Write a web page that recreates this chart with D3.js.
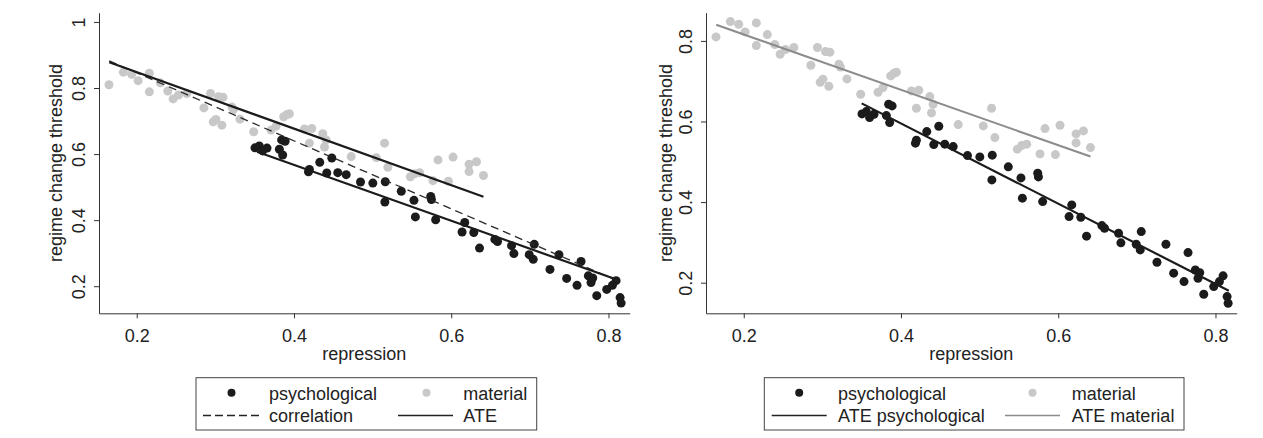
<!DOCTYPE html>
<html>
<head>
<meta charset="utf-8">
<script src="https://cdn.jsdelivr.net/npm/d3@7"></script>
<style>
  body { margin: 0; background: #fff; }
  text { font-family: "Liberation Sans", Arial, sans-serif; fill: #222; }
</style>
</head>
<body>
<div id="chart-area"></div>
<script>
// psychological scenarios (black dots)
var psychX = [0.3504, 0.3559, 0.3601, 0.3657, 0.3843, 0.3887, 0.3814, 0.3856, 0.4184, 0.4196,
              0.4328, 0.4481, 0.4417, 0.4557, 0.4664, 0.4846, 0.5003, 0.5161, 0.5156, 0.5365,
              0.5526, 0.5544, 0.5739, 0.5748, 0.5802, 0.6172, 0.6138, 0.6287, 0.6360, 0.6555,
              0.6589, 0.6767, 0.6797, 0.7056, 0.6992, 0.7043, 0.7256, 0.7370, 0.7468, 0.7651,
              0.7600, 0.7744, 0.7800, 0.7778, 0.7851, 0.7978, 0.8050, 0.8097, 0.8148, 0.8161];
var psychY = [0.6189, 0.6246, 0.6097, 0.6181, 0.6429, 0.6387, 0.6147, 0.5973, 0.5462, 0.5536,
              0.5749, 0.5883, 0.5427, 0.5437, 0.5377, 0.5154, 0.5122, 0.5164, 0.4551, 0.4874,
              0.4600, 0.4097, 0.4717, 0.4625, 0.4013, 0.3930, 0.3640, 0.3625, 0.3154, 0.3417,
              0.3352, 0.3228, 0.2988, 0.3268, 0.2955, 0.2814, 0.2508, 0.2955, 0.2236, 0.2747,
              0.2027, 0.2315, 0.2249, 0.2111, 0.1714, 0.1903, 0.2027, 0.2169, 0.1655, 0.1490];

// material scenarios (grey dots)
var matX = [0.1647, 0.1830, 0.1936, 0.2017, 0.2160, 0.2160, 0.2300, 0.2395, 0.2463, 0.2530,
            0.2637, 0.2854, 0.2938, 0.3040, 0.3096, 0.2973, 0.3007, 0.3083, 0.3211, 0.3230,
            0.3313, 0.3487, 0.3708, 0.3772, 0.3869, 0.3912, 0.3941, 0.4133, 0.4226, 0.4196,
            0.4366, 0.4409, 0.4388, 0.4728, 0.5152, 0.5047, 0.5194, 0.5480, 0.5535, 0.5599,
            0.5768, 0.5832, 0.5964, 0.6023, 0.6227, 0.6321, 0.6227, 0.6410];
var matY = [0.8099, 0.8480, 0.8414, 0.8223, 0.8447, 0.7884, 0.8157, 0.7909, 0.7670, 0.7785,
            0.7835, 0.7397, 0.7835, 0.7735, 0.7720, 0.6975, 0.7050, 0.6876, 0.7422, 0.7350,
            0.7057, 0.6677, 0.6727, 0.6842, 0.7131, 0.7198, 0.7222, 0.6759, 0.6776, 0.6330,
            0.6618, 0.6429, 0.6213, 0.5923, 0.6330, 0.5891, 0.5600, 0.5313, 0.5402, 0.5437,
            0.5196, 0.5824, 0.5179, 0.5908, 0.5692, 0.5767, 0.5469, 0.5353];

// fitted lines (endpoints)
var corrX = [0.165, 0.815], corrY = [0.882, 0.213];
var ateMatLX = [0.165, 0.641], ateMatLY = [0.878, 0.471];
var atePsyLX = [0.353, 0.813], atePsyLY = [0.607, 0.218];
var atePsyRX = [0.350, 0.817], atePsyRY = [0.645, 0.180];
var ateMatRX = [0.165, 0.641], ateMatRY = [0.840, 0.513];

// ticks
var xTicks = [0.2, 0.4, 0.6, 0.8];
var yTicksLeft = [0.2, 0.4, 0.6, 0.8, 1];
var yTicksRight = [0.2, 0.4, 0.6, 0.8];

var W = 1263, H = 438;
var pw = 530.7, ph = 300.6;

var svg = d3.select("#chart-area")
    .append("svg")
        .attr("width", W)
        .attr("height", H);

var BLACK = "#1b1b1b", GREY = "#c8c8c8", GREYLINE = "#8c8c8c", AXIS = "#333";

function pts(xs, ys) {
    return xs.map(function(d, i){ return { x: d, y: ys[i] }; });
}

function drawPanel(cfg) {
    var g = svg.append("g")
        .attr("transform", "translate(" + cfg.left + "," + cfg.top + ")");

    var x = d3.scaleLinear().domain([0.152, 0.827]).range([0, pw]);
    var y = d3.scaleLinear().domain(cfg.yDomain).range([ph, 0]);

    // axes
    var xAxis = g.append("g")
        .attr("transform", "translate(0," + ph + ")")
        .call(d3.axisBottom(x).tickValues(xTicks).tickSize(5).tickSizeOuter(0)
            .tickFormat(function(d){ return d.toFixed(1); }));
    xAxis.select(".domain").attr("stroke", AXIS);
    xAxis.selectAll(".tick line").attr("stroke", AXIS);
    xAxis.selectAll(".tick text")
        .attr("font-size", "18px")
        .attr("font-family", "Liberation Sans, Arial, sans-serif")
        .attr("fill", "#222")
        .attr("y", 29).attr("dy", 0);

    var yAxis = g.append("g")
        .call(d3.axisLeft(y).tickValues(cfg.yTicks).tickSize(5).tickSizeOuter(0)
            .tickFormat(function(d){ return d === 1 ? "1" : d.toFixed(1); }));
    yAxis.select(".domain").attr("stroke", AXIS);
    yAxis.selectAll(".tick line").attr("stroke", AXIS);
    yAxis.selectAll(".tick text")
        .attr("font-size", "18px")
        .attr("font-family", "Liberation Sans, Arial, sans-serif")
        .attr("fill", "#222")
        .attr("x", null).attr("dy", null)
        .attr("text-anchor", "middle")
        .attr("transform", "translate(-14,0) rotate(-90)");

    // axis titles
    g.append("text")
        .attr("x", pw / 2)
        .attr("y", 347.5)
        .attr("text-anchor", "middle")
        .attr("font-size", "18px")
        .text("repression");

    g.append("text")
        .attr("transform", "translate(" + (-cfg.yTitleOff) + "," + (ph / 2) + ") rotate(-90)")
        .attr("text-anchor", "middle")
        .attr("font-size", "18px")
        .text("regime change threshold");

    // dots
    g.selectAll(".mat")
        .data(pts(matX, matY))
        .enter().append("circle")
            .attr("class", "mat")
            .attr("cx", function(d){ return x(d.x); })
            .attr("cy", function(d){ return y(d.y); })
            .attr("r", 4.5)
            .attr("fill", GREY);

    g.selectAll(".psy")
        .data(pts(psychX, psychY))
        .enter().append("circle")
            .attr("class", "psy")
            .attr("cx", function(d){ return x(d.x); })
            .attr("cy", function(d){ return y(d.y); })
            .attr("r", 4.5)
            .attr("fill", BLACK);

    var line = d3.line()
        .x(function(d){ return x(d.x); })
        .y(function(d){ return y(d.y); });

    cfg.lines.forEach(function(l) {
        g.append("path")
            .datum(pts(l.xs, l.ys))
            .attr("d", line)
            .attr("fill", "none")
            .attr("stroke", l.color)
            .attr("stroke-width", l.width)
            .attr("stroke-dasharray", l.dash || null);
    });

    // legend
    var lg = svg.append("g");
    lg.append("rect")
        .attr("x", cfg.legend.x0)
        .attr("y", 377.7)
        .attr("width", cfg.legend.x1 - cfg.legend.x0)
        .attr("height", 52.3)
        .attr("fill", "#fff")
        .attr("stroke", "#444")
        .attr("stroke-width", 1);

    cfg.legend.items.forEach(function(it) {
        var rowY = it.row === 0 ? 392.7 : 415.5;
        if (it.type === "dot") {
            lg.append("circle")
                .attr("cx", (it.k0 + it.k1) / 2)
                .attr("cy", rowY)
                .attr("r", 4)
                .attr("fill", it.color);
        } else {
            lg.append("line")
                .attr("x1", it.k0).attr("x2", it.k1)
                .attr("y1", rowY).attr("y2", rowY)
                .attr("stroke", it.color)
                .attr("stroke-width", 1.3)
                .attr("stroke-dasharray", it.dash || null);
        }
        lg.append("text")
            .attr("x", it.tx)
            .attr("y", rowY + 6.8)
            .attr("font-size", "18px")
            .text(it.label);
    });
}

drawPanel({
    left: 99, top: 12.7,
    yDomain: [0.118, 1.028],
    yTicks: yTicksLeft,
    yTitleOff: 37.5,
    lines: [
        { xs: corrX, ys: corrY, color: "#2a2a2a", width: 1.3, dash: "8,5" },
        { xs: ateMatLX, ys: ateMatLY, color: BLACK, width: 2.2 },
        { xs: atePsyLX, ys: atePsyLY, color: BLACK, width: 2.2 }
    ],
    legend: {
        x0: 196, x1: 536.7,
        items: [
            { row: 0, type: "dot", color: BLACK, k0: 203, k1: 260, tx: 269, label: "psychological" },
            { row: 0, type: "dot", color: GREY, k0: 398, k1: 455, tx: 463.3, label: "material" },
            { row: 1, type: "line", color: "#222", dash: "8,4", k0: 203, k1: 260, tx: 269, label: "correlation" },
            { row: 1, type: "line", color: "#222", k0: 398, k1: 453, tx: 463.3, label: "ATE" }
        ]
    }
});

drawPanel({
    left: 706, top: 12.7,
    yDomain: [0.124, 0.870],
    yTicks: yTicksRight,
    yTitleOff: 34.3,
    lines: [
        { xs: ateMatRX, ys: ateMatRY, color: GREYLINE, width: 2 },
        { xs: atePsyRX, ys: atePsyRY, color: BLACK, width: 2.2 }
    ],
    legend: {
        x0: 764.3, x1: 1184,
        items: [
            { row: 0, type: "dot", color: BLACK, k0: 771.7, k1: 826.7, tx: 838, label: "psychological" },
            { row: 0, type: "dot", color: GREY, k0: 1005, k1: 1060, tx: 1071.7, label: "material" },
            { row: 1, type: "line", color: "#222", k0: 771.7, k1: 826.7, tx: 838, label: "ATE psychological" },
            { row: 1, type: "line", color: GREYLINE, k0: 1005, k1: 1060, tx: 1071.7, label: "ATE material" }
        ]
    }
});
</script>
</body>
</html>
